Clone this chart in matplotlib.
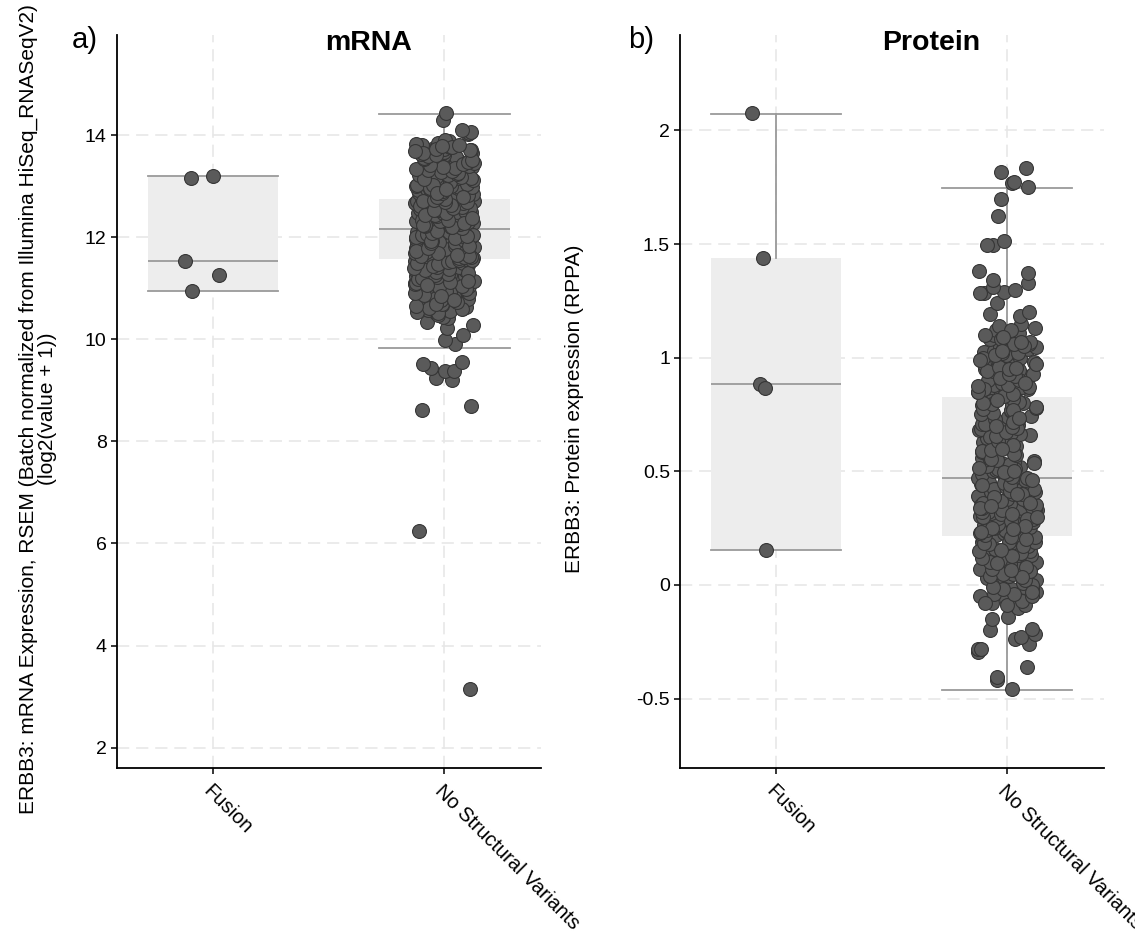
import numpy as np
import matplotlib
matplotlib.use("Agg")
import matplotlib.pyplot as plt

plt.rcParams['font.family'] = ['Liberation Sans', 'DejaVu Sans']

# categories
cats = ["Fusion", "No Structural Variants"]

# ---- mRNA values (log2(value + 1)) ----
mrna_fusion = [13.15, 13.20, 11.25, 11.54, 10.94]
mrna_nsv = [
    # low tail
    3.15, 6.25, 8.61, 8.70, 9.21, 9.25, 9.37, 9.38, 9.44, 9.51, 9.56, 9.91, 9.99, 10.08,
    10.23, 10.27, 10.34,
    10.41, 10.44, 10.52, 10.55, 10.57, 10.61, 10.63, 10.66, 10.68, 10.72, 10.74, 10.79,
    10.81, 10.83, 10.86, 10.88, 10.91, 10.93, 10.96, 10.98,
    11.01, 11.03, 11.04, 11.07, 11.09, 11.11, 11.12, 11.15, 11.17, 11.18, 11.21, 11.23,
    11.24, 11.26, 11.28, 11.29, 11.31, 11.33, 11.34, 11.36, 11.37, 11.39, 11.41, 11.42,
    11.43, 11.45, 11.46, 11.48, 11.49, 11.50, 11.51, 11.53, 11.54, 11.55, 11.56, 11.57,
    11.57, 11.58,
    # Q1 - median
    11.59, 11.60, 11.60, 11.61, 11.62, 11.63, 11.63, 11.64, 11.65, 11.66, 11.67, 11.67,
    11.68, 11.69, 11.70, 11.71, 11.71, 11.72, 11.73, 11.74, 11.75, 11.76, 11.76, 11.77,
    11.78, 11.79, 11.80, 11.81, 11.81, 11.82, 11.83, 11.84, 11.85, 11.86, 11.86, 11.87,
    11.88, 11.89, 11.90, 11.91, 11.91, 11.92, 11.93, 11.94, 11.95, 11.96, 11.96, 11.97,
    11.98, 11.99, 12.00, 12.01, 12.01, 12.02, 12.03, 12.04, 12.05, 12.06, 12.06, 12.07,
    12.08, 12.09, 12.10, 12.10, 12.11, 12.12, 12.12, 12.13, 12.14, 12.14, 12.15, 12.15,
    12.16, 12.16,
    # median - Q3
    12.17, 12.18, 12.18, 12.19, 12.20, 12.21, 12.22, 12.22, 12.23, 12.24, 12.25, 12.26,
    12.26, 12.27, 12.28, 12.29, 12.30, 12.31, 12.31, 12.32, 12.33, 12.34, 12.35, 12.36,
    12.36, 12.37, 12.38, 12.39, 12.40, 12.41, 12.41, 12.42, 12.43, 12.44, 12.45, 12.46,
    12.46, 12.47, 12.48, 12.49, 12.50, 12.51, 12.51, 12.52, 12.53, 12.54, 12.55, 12.56,
    12.56, 12.57, 12.58, 12.59, 12.60, 12.61, 12.61, 12.62, 12.63, 12.64, 12.65, 12.66,
    12.66, 12.67, 12.68, 12.69, 12.70, 12.70, 12.71, 12.72, 12.72, 12.73, 12.73, 12.74,
    # upper part
    12.75, 12.76, 12.77, 12.78, 12.80, 12.81, 12.82, 12.84, 12.85, 12.86, 12.88, 12.89,
    12.90, 12.92, 12.93, 12.95, 12.96, 12.98, 13.00, 13.01, 13.03, 13.04, 13.06, 13.07,
    13.09, 13.10, 13.12, 13.14, 13.15, 13.17, 13.19, 13.20, 13.22, 13.24, 13.26, 13.28,
    13.30, 13.32, 13.34, 13.36, 13.38, 13.40, 13.42, 13.44, 13.47, 13.50, 13.52, 13.55,
    13.57, 13.60, 13.62, 13.64, 13.66, 13.67, 13.69, 13.71, 13.72, 13.74, 13.75, 13.76,
    13.78, 13.80, 13.82, 13.85, 13.88, 13.90, 14.03, 14.05, 14.06, 14.10, 14.29, 14.44,
    # more samples in the dense body
    10.47, 10.51, 10.54, 10.59, 10.62, 10.65, 10.70, 10.73, 10.77, 10.80, 10.84, 10.87,
    10.90, 10.92, 10.95, 10.99, 11.02, 11.05, 11.08, 11.10, 11.13, 11.16, 11.19, 11.20,
    11.22, 11.25, 11.27, 11.30, 11.32, 11.35, 11.38, 11.40, 11.41, 11.44, 11.47, 11.49,
    11.52, 11.53, 11.55, 11.56, 10.69, 10.76, 10.85, 11.06, 11.14,
    11.59, 11.61, 11.62, 11.64, 11.66, 11.68, 11.70, 11.72, 11.74, 11.75, 11.77, 11.79,
    11.80, 11.82, 11.84, 11.85, 11.87, 11.89, 11.90, 11.92, 11.94, 11.95, 11.97, 11.99,
    12.00, 12.02, 12.04, 12.05, 12.07, 12.09, 12.11, 12.13, 12.15, 11.63, 11.69, 11.73,
    11.78, 11.83, 11.88, 11.93, 11.98, 12.03, 12.08, 12.12, 11.65,
    12.17, 12.19, 12.21, 12.23, 12.25, 12.27, 12.29, 12.30, 12.32, 12.34, 12.35, 12.37,
    12.39, 12.40, 12.42, 12.44, 12.45, 12.47, 12.49, 12.50, 12.52, 12.54, 12.55, 12.57,
    12.59, 12.60, 12.62, 12.64, 12.65, 12.67, 12.69, 12.71, 12.73, 12.20, 12.24, 12.28,
    12.33, 12.38, 12.43, 12.48, 12.53, 12.58, 12.63, 12.68, 12.72,
    12.75, 12.79, 12.83, 12.87, 12.91, 12.94, 12.97, 12.99, 13.02, 13.05, 13.08, 13.11,
    13.13, 13.16, 13.18, 13.21, 13.23, 13.25, 13.27, 13.29, 13.31, 13.33, 13.35, 13.37,
    13.39, 13.41, 13.43, 13.45, 13.48, 13.51, 13.54, 13.56, 13.58, 13.61, 13.63, 13.65,
    13.68, 13.70, 13.73, 13.77, 13.79, 13.81, 12.78, 12.86, 12.95,
]

# ---- protein values (RPPA) ----
prot_fusion = [2.075, 1.44, 0.885, 0.865, 0.155]
prot_nsv = [
    -0.458, -0.420, -0.407, -0.363, -0.297, -0.282, -0.282, -0.260, -0.238, -0.230,
    -0.216, -0.200, -0.194, -0.150, -0.140, -0.100, -0.090, -0.080, -0.060, -0.050,
    -0.040, -0.030, -0.020, -0.020, -0.010, 0.000, 0.010, 0.020, 0.030, 0.030, 0.040,
    0.050, 0.060, 0.060, 0.070, 0.080, 0.090, 0.100, 0.100, 0.110, 0.120, 0.130, 0.130,
    0.140, 0.150, 0.150, 0.160, 0.170, 0.170, 0.180, 0.190, 0.190, 0.200, 0.200, 0.210,
    0.210, 0.220,
    0.225, 0.230, 0.235, 0.240, 0.245, 0.250, 0.255, 0.260, 0.265, 0.270, 0.275, 0.280,
    0.285, 0.290, 0.295, 0.300, 0.305, 0.310, 0.315, 0.320, 0.325, 0.330, 0.335, 0.340,
    0.345, 0.350, 0.355, 0.360, 0.365, 0.370, 0.375, 0.380, 0.385, 0.390, 0.395, 0.400,
    0.405, 0.410, 0.415, 0.420, 0.425, 0.430, 0.435, 0.440, 0.445, 0.450, 0.455, 0.460,
    0.465, 0.470,
    0.480, 0.485, 0.490, 0.500, 0.505, 0.510, 0.520, 0.525, 0.530, 0.540, 0.545, 0.550,
    0.560, 0.565, 0.570, 0.580, 0.585, 0.590, 0.600, 0.605, 0.610, 0.620, 0.625, 0.630,
    0.640, 0.645, 0.650, 0.660, 0.665, 0.670, 0.680, 0.685, 0.690, 0.700, 0.705, 0.710,
    0.720, 0.725, 0.730, 0.740, 0.745, 0.750, 0.760, 0.765, 0.770, 0.780, 0.785, 0.790,
    0.800, 0.805, 0.810, 0.820, 0.825,
    0.835, 0.840, 0.850, 0.860, 0.865, 0.870, 0.880, 0.890, 0.900, 0.910, 0.915, 0.920,
    0.930, 0.940, 0.945, 0.950, 0.960, 0.970, 0.980, 0.985, 0.990, 1.000, 1.000, 1.010,
    1.020, 1.025, 1.030, 1.040, 1.045, 1.050, 1.060, 1.070, 1.080, 1.100, 1.110, 1.120,
    1.130, 1.140, 1.150, 1.185, 1.190, 1.200, 1.240, 1.283, 1.283, 1.289, 1.296, 1.310,
    1.330, 1.340, 1.373, 1.382, 1.497, 1.498, 1.514, 1.622, 1.700, 1.752, 1.767, 1.774,
    1.818, 1.833,
    # more samples in the dense body
    -0.09, -0.07, -0.05, -0.04, -0.02, -0.01, 0.00, 0.01, 0.02, 0.04, 0.05, 0.06,
    0.07, 0.08, 0.09, 0.10, 0.11, 0.12, 0.13, 0.14, 0.15, 0.16, 0.17, 0.18, 0.19,
    0.20, 0.21, -0.08, -0.03, 0.035, 0.065, 0.095, 0.125, 0.155, 0.185,
    0.22, 0.23, 0.24, 0.25, 0.26, 0.27, 0.28, 0.29, 0.30, 0.31, 0.32, 0.33, 0.34,
    0.35, 0.36, 0.37, 0.38, 0.39, 0.40, 0.41, 0.42, 0.43, 0.44, 0.45, 0.46, 0.47,
    0.232, 0.258, 0.283, 0.312, 0.338, 0.362, 0.388, 0.412, 0.438, 0.462, 0.248,
    0.298, 0.348, 0.398,
    0.475, 0.49, 0.51, 0.53, 0.55, 0.57, 0.59, 0.61, 0.63, 0.65, 0.67, 0.69, 0.71,
    0.73, 0.75, 0.77, 0.79, 0.81, 0.83, 0.495, 0.515, 0.535, 0.555, 0.575, 0.595,
    0.615, 0.635, 0.655, 0.675, 0.695, 0.715, 0.735, 0.755, 0.775, 0.795, 0.815,
    0.50, 0.60, 0.70, 0.80,
    0.84, 0.86, 0.88, 0.90, 0.92, 0.94, 0.96, 0.98, 1.00, 1.02, 1.04, 1.06, 1.08,
    1.10, 1.12, 0.85, 0.87, 0.89, 0.91, 0.93, 0.95, 0.97, 0.99, 1.01, 1.03, 1.05,
    1.07, 1.09, 0.875, 0.955,
]

# box statistics as drawn in the figure (q1, median, q3, whisker low, whisker high)
mrna_box = [(10.94, 11.54, 13.19, 10.94, 13.20), (11.58, 12.16, 12.74, 9.82, 14.42)]
prot_box = [(0.154, 0.882, 1.439, 0.154, 2.073), (0.217, 0.471, 0.826, -0.463, 1.745)]

mrna_ticks = [2, 4, 6, 8, 10, 12, 14]
mrna_ticklabels = ["2", "4", "6", "8", "10", "12", "14"]
prot_ticks = [-0.5, 0, 0.5, 1, 1.5, 2]
prot_ticklabels = ["-0.5", "0", "0.5", "1", "1.5", "2"]

mrna_ylabel = ("ERBB3: mRNA Expression, RSEM (Batch normalized from Illumina HiSeq_RNASeqV2)\n"
               "(log2(value + 1))")
prot_ylabel = "ERBB3: Protein expression (RPPA)"

BOX_FILL = "#ededed"
LINE_C = "#9a9a9a"
PT_FILL = "#5a5a5a"
PT_EDGE = "#363636"
GRID_C = "#e6e6e6"

fig = plt.figure(figsize=(11.35, 9.41), dpi=100)
ax1 = fig.add_axes([0.1031, 0.1838, 0.3736, 0.779])
ax2 = fig.add_axes([0.5994, 0.1838, 0.3731, 0.779])

rng = np.random.default_rng(11)


def draw_panel(ax, groups, boxes, ylim, ticks, ticklabels, title, title_x):
    stats = []
    for q1, med, q3, lo, hi in boxes:
        stats.append(dict(q1=q1, med=med, q3=q3, whislo=lo, whishi=hi, fliers=[]))
    ax.bxp(stats, positions=[0, 1], widths=0.565, capwidths=0.565, patch_artist=True,
           showfliers=False,
           boxprops=dict(facecolor=BOX_FILL, edgecolor="none", linewidth=0),
           medianprops=dict(color=LINE_C, linewidth=1.3),
           whiskerprops=dict(color=LINE_C, linewidth=1.3),
           capprops=dict(color=LINE_C, linewidth=1.3))
    for i, vals in enumerate(groups):
        vals = np.asarray(vals)
        xs = i + rng.uniform(-0.13, 0.13, len(vals))
        ax.scatter(xs, vals, s=100, facecolor=PT_FILL, edgecolor=PT_EDGE,
                   linewidth=0.8, zorder=3)

    ax.set_xlim(-0.415, 1.418)
    ax.set_ylim(*ylim)
    ax.set_yticks(ticks)
    ax.set_yticklabels(ticklabels)
    ax.set_xticks([0, 1])
    ax.set_xticklabels(cats, rotation=-45, ha="left", va="top", rotation_mode="anchor")

    ax.set_axisbelow(True)
    ax.grid(True, color=GRID_C, linewidth=1.1, linestyle=(0, (8, 4.5)))
    for s in ["top", "right"]:
        ax.spines[s].set_visible(False)
    for s in ["left", "bottom"]:
        ax.spines[s].set_linewidth(1.3)
    ax.tick_params(axis="both", direction="out", length=4.5, width=1.1,
                   labelsize=14, pad=3, colors="black")
    ax.tick_params(axis="x", labelsize=14.5, pad=5)

    ax.text(title_x, 0.9795, title, transform=ax.transAxes, ha="center",
            va="baseline", fontsize=20.5, fontweight="bold")


draw_panel(ax1, [mrna_fusion, mrna_nsv], mrna_box, (1.6, 15.96),
           mrna_ticks, mrna_ticklabels, "mRNA", 0.594)
draw_panel(ax2, [prot_fusion, prot_nsv], prot_box, (-0.806, 2.42),
           prot_ticks, prot_ticklabels, "Protein", 0.592)

ax1.set_ylabel(mrna_ylabel, fontsize=15, linespacing=1.0)
ax1.yaxis.set_label_coords(-0.142, 0.49)
ax2.set_ylabel(prot_ylabel, fontsize=15)
ax2.yaxis.set_label_coords(-0.227, 0.49)

fig.text(72 / 1135, 0.949, "a)", fontsize=21, va="baseline", ha="left")
fig.text(628 / 1135, 0.949, "b)", fontsize=21, va="baseline", ha="left")

fig.savefig("out.png", dpi=100, facecolor="white")
